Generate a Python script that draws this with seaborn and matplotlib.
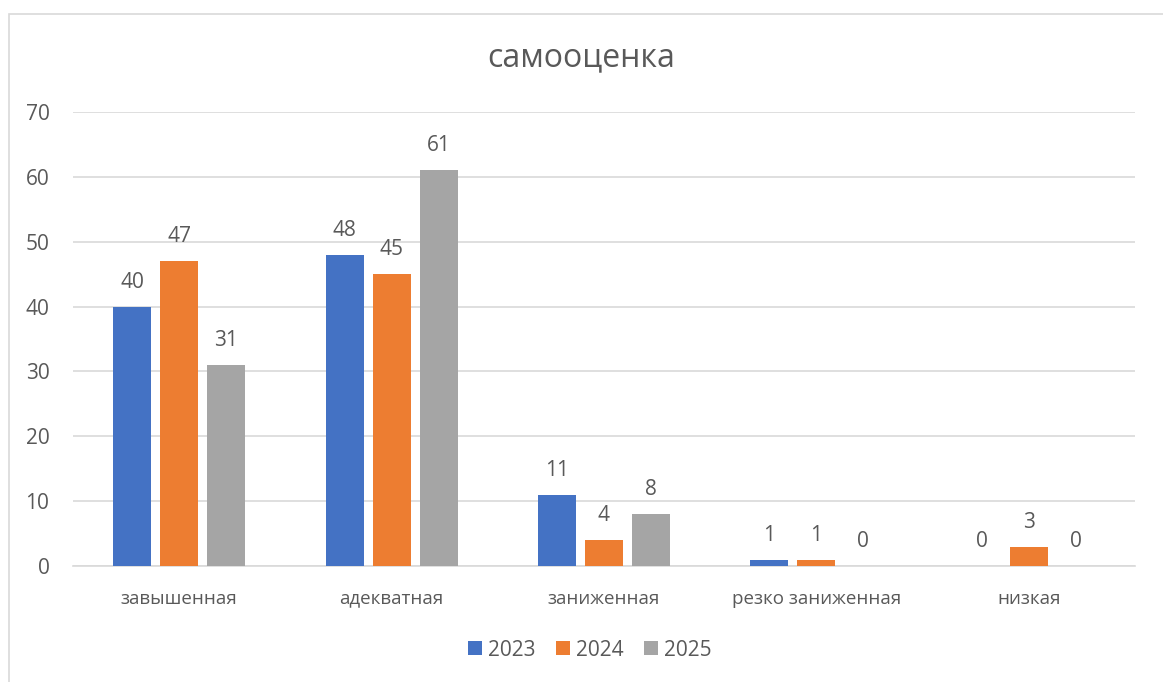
import pandas as pd
import matplotlib.pyplot as plt
import seaborn as sns
from matplotlib.patches import Rectangle

# data
categories = ["завышенная", "адекватная", "заниженная", "резко заниженная", "низкая"]
years = ["2023", "2024", "2025"]
v2023 = [40, 48, 11, 1, 0]
v2024 = [47, 45, 4, 1, 3]
v2025 = [31, 61, 8, 0, 0]

df = pd.DataFrame({
    "category": categories * 3,
    "year": [y for y in years for _ in categories],
    "value": v2023 + v2024 + v2025,
})

colors = ["#4472C4", "#ED7D31", "#A5A5A5"]
text_col = "#595959"

sns.set_style("white")
plt.rcParams["font.family"] = ["Open Sans", "DejaVu Sans"]

fig = plt.figure(figsize=(11.63, 6.82), dpi=100)
ax = fig.add_axes([73 / 1163, 1 - 566 / 682, (1135 - 73) / 1163, (566 - 112) / 682])

sns.barplot(data=df, x="category", y="value", hue="year", palette=colors,
            saturation=1, width=0.663, gap=0.19, linewidth=0, ax=ax, zorder=3)

for cont in ax.containers:
    ax.bar_label(cont, padding=10, fontsize=15, color=text_col)

ax.set_ylim(0, 70)
ax.set_yticks(range(0, 71, 10))
ax.set_xlim(-0.5, 4.5)
ax.grid(axis="y", color="#D9D9D9", linewidth=1.2, zorder=0)
for s in ["top", "right", "left"]:
    ax.spines[s].set_visible(False)
ax.spines["bottom"].set_color("#D9D9D9")
ax.spines["bottom"].set_linewidth(1.2)
ax.tick_params(axis="both", length=0, labelcolor=text_col)
ax.tick_params(axis="x", pad=17, labelsize=13.5)
ax.tick_params(axis="y", pad=17, labelsize=15)
ax.set_xlabel("")
ax.set_ylabel("")

fig.text(0.5, 1 - 58 / 682, "самооценка", ha="center", va="center",
         fontsize=23, color=text_col)

handles, labels = ax.get_legend_handles_labels()
ax.legend_.remove()
fig.legend(handles, labels, loc="center", bbox_to_anchor=(590 / 1163, 1 - 650 / 682),
           ncol=3, frameon=False, fontsize=15, labelcolor=text_col,
           handlelength=0.65, handleheight=0.65, handletextpad=0.3, columnspacing=1.0)

# chart border (right and bottom edges fall outside the image)
fig.patches.append(Rectangle((9 / 1163, -0.1), 1.2, 1 - 14 / 682 + 0.1,
                             transform=fig.transFigure, fill=False,
                             edgecolor="#D9D9D9", linewidth=1.2))

fig.savefig("out.png", dpi=100)
